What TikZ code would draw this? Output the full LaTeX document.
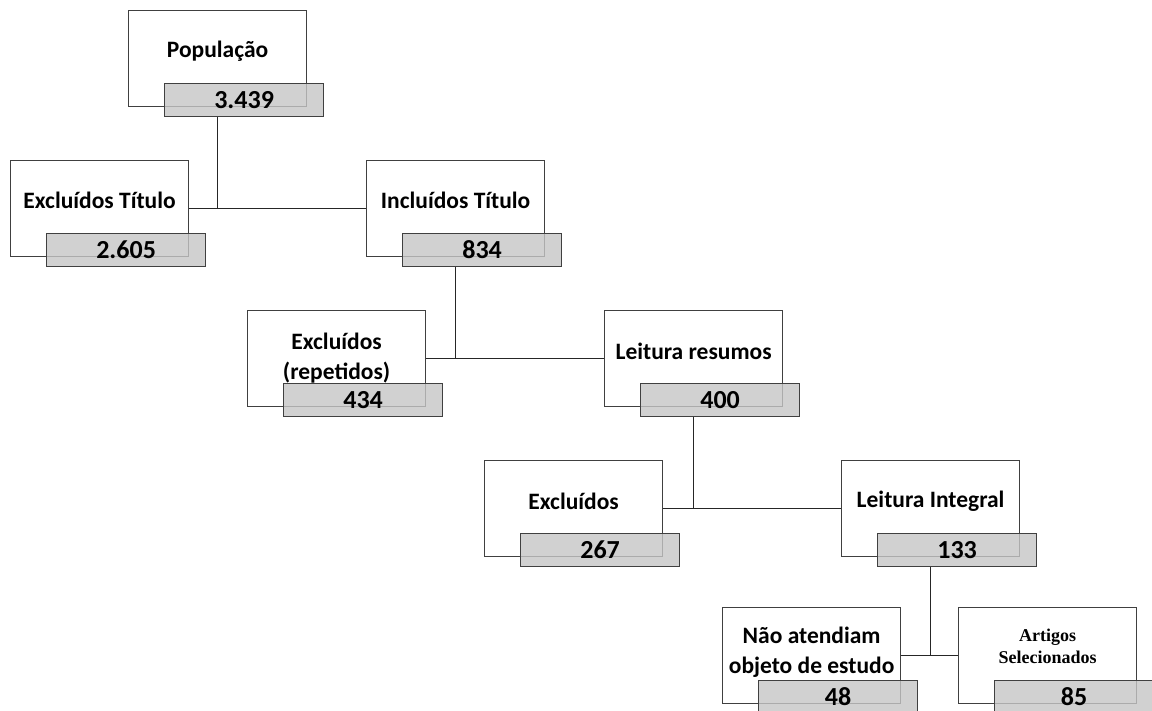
\documentclass[tikz,border=0pt]{standalone}
\usepackage{fontspec}
\setmainfont{Carlito}
\newfontfamily\serifbold{Liberation Serif}
\usetikzlibrary{positioning}
\definecolor{linha}{HTML}{404040}
\definecolor{cinza}{HTML}{C6C6C6}
\tikzset{
  caixa/.style={draw=linha,line width=1.2pt,fill=white,minimum width=178pt,
    minimum height=96pt,anchor=north west,inner sep=0pt},
  numero/.style={draw=linha,line width=1.2pt,fill=cinza,fill opacity=0.8,
    text opacity=1,minimum width=159pt,minimum height=33pt,anchor=north west,
    inner sep=0pt,font=\fontsize{26}{30}\selectfont\bfseries},
  rotulo/.style={align=center,inner sep=0pt,
    font=\fontsize{23.5}{30}\selectfont\bfseries},
  serifa/.style={font=\fontsize{18}{22}\selectfont\serifbold\bfseries},
  liga/.style={line width=1.4pt,draw=black!85}
}
% name, x, y, label options, text, number
\newcommand{\etapa}[6]{%
  \node[caixa] (#1) at (#2,#3) {};
  \node[numero] (#1n) at ([xshift=36pt,yshift=-73pt]#1.north west) {#6};
  \node[rotulo,#4] (#1t) at (#1.north) {#5};
}
\begin{document}
\begin{tikzpicture}[x=1pt,y=-1pt]
  \clip (0,0) rectangle (1152,711);
  \fill[white] (0,0) rectangle (1152,711);
  \etapa{pop}{128}{10}{yshift=-41pt}{População}{3.439}
  \etapa{excT}{10}{160}{yshift=-40pt}{Excluídos Título}{2.605}
  \etapa{incT}{366}{160}{yshift=-40pt}{Incluídos Título}{834}
  \etapa{excR}{247}{310}{yshift=-48pt}{Excluídos\\(repetidos)}{434}
  \etapa{leiR}{604}{310}{yshift=-41pt}{Leitura resumos}{400}
  \etapa{exc}{484}{460}{yshift=-41pt}{Excluídos}{267}
  \etapa{leiI}{841}{460}{yshift=-41pt}{Leitura Integral}{133}
  \etapa{nao}{722}{607}{yshift=-45pt}{Não atendiam\\objeto de estudo}{48}
  \etapa{art}{958}{607}{yshift=-39pt,serifa}{Artigos\\Selecionados}{85}
  % ligacoes
  \draw[liga] (pop.south |- popn.south) -- (pop.south |- excT.east);
  \draw[liga] (excT.east) -- (incT.west);
  \draw[liga] (incT.south |- incTn.south) -- (incT.south |- excR.east);
  \draw[liga] (excR.east) -- (leiR.west);
  \draw[liga] (leiR.south |- leiRn.south) -- (leiR.south |- exc.east);
  \draw[liga] (exc.east) -- (leiI.west);
  \draw[liga] (leiI.south |- leiIn.south) -- (leiI.south |- nao.east);
  \draw[liga] (nao.east) -- (art.west);
\end{tikzpicture}
\end{document}
